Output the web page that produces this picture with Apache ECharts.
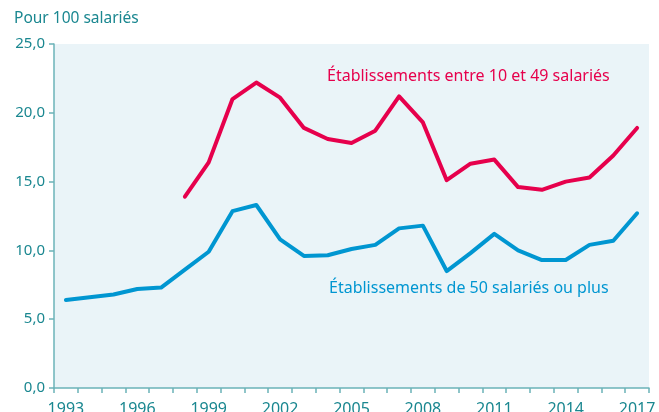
<!DOCTYPE html>
<html>
<head>
<meta charset="utf-8">
<script src="https://cdn.jsdelivr.net/npm/echarts@6/dist/echarts.min.js"></script>
<style>html,body{margin:0;padding:0;background:#fff}#c{width:659px;height:412px}</style>
</head>
<body>
<div id="c"></div>
<script>
var years = ['1993','1994','1995','1996','1997','1998','1999','2000','2001','2002','2003','2004','2005','2006','2007','2008','2009','2010','2011','2012','2013','2014','2015','2016','2017'];
var small = [null,null,null,null,null,13.9,16.4,21.0,22.2,21.1,18.9,18.1,17.8,18.7,21.2,19.3,15.1,16.3,16.6,14.6,14.4,15.0,15.3,16.9,18.9];
var large = [6.4,6.6,6.8,7.2,7.3,8.6,9.9,12.85,13.3,10.8,9.6,9.65,10.1,10.4,11.6,11.8,8.5,9.8,11.2,10.0,9.3,9.3,10.4,10.7,12.7];
var yTicks = [0,5,10,15,20,25];
var smallName = 'Établissements entre 10 et 49 salariés';
var largeName = 'Établissements de 50 salariés ou plus';
var unitLabel = 'Pour 100 salariés';

var teal = '#1a8790';
var axisCol = '#6bb3b8';
var red = '#e6004c';
var blue = '#0096d1';
var font = 'Noto Sans';

var chart = echarts.init(document.getElementById('c'));
chart.setOption({
  animation: false,
  backgroundColor: '#ffffff',
  textStyle: {fontFamily: font},
  grid: {left: 54, top: 44, right: 10, bottom: 24, show: true, backgroundColor: '#eaf4f8', borderWidth: 0,
    containLabel: false, outerBoundsMode: 'none'},
  xAxis: {
    type: 'category', data: years, boundaryGap: true,
    axisLine: {lineStyle: {color: axisCol, width: 1.5}},
    axisTick: {show: true, interval: 0, length: 5, lineStyle: {color: axisCol, width: 1.5}},
    axisLabel: {interval: 2, color: teal, fontSize: 16, fontFamily: font, margin: 13, hideOverlap: false},
    splitLine: {show: false}
  },
  yAxis: {
    type: 'value', min: yTicks[0], max: yTicks[yTicks.length-1], interval: 5,
    axisLine: {show: true, lineStyle: {color: axisCol, width: 1.5}},
    axisTick: {show: true, length: 5, inside: false, lineStyle: {color: axisCol, width: 1.5}},
    axisLabel: {color: teal, fontSize: 15, fontFamily: font, margin: 9,
      formatter: function(v){ return v.toFixed(1).replace('.', ','); }},
    splitLine: {show: false}
  },
  graphic: [
    {type: 'text', left: 14, top: 11, style: {text: unitLabel, fill: teal, font: '15.5px "Noto Sans"'}},
    {type: 'text', left: 327, top: 68, style: {text: smallName, fill: red, font: '16px "Noto Sans"'}},
    {type: 'text', left: 329, top: 280, style: {text: largeName, fill: blue, font: '16px "Noto Sans"'}}
  ],
  series: [
    {name: smallName, type: 'line', data: small, symbol: 'none', connectNulls: false,
      lineStyle: {color: red, width: 4, cap: 'round', join: 'round'}},
    {name: largeName, type: 'line', data: large, symbol: 'none',
      lineStyle: {color: blue, width: 4, cap: 'round', join: 'round'}}
  ]
});
</script>
</body>
</html>
